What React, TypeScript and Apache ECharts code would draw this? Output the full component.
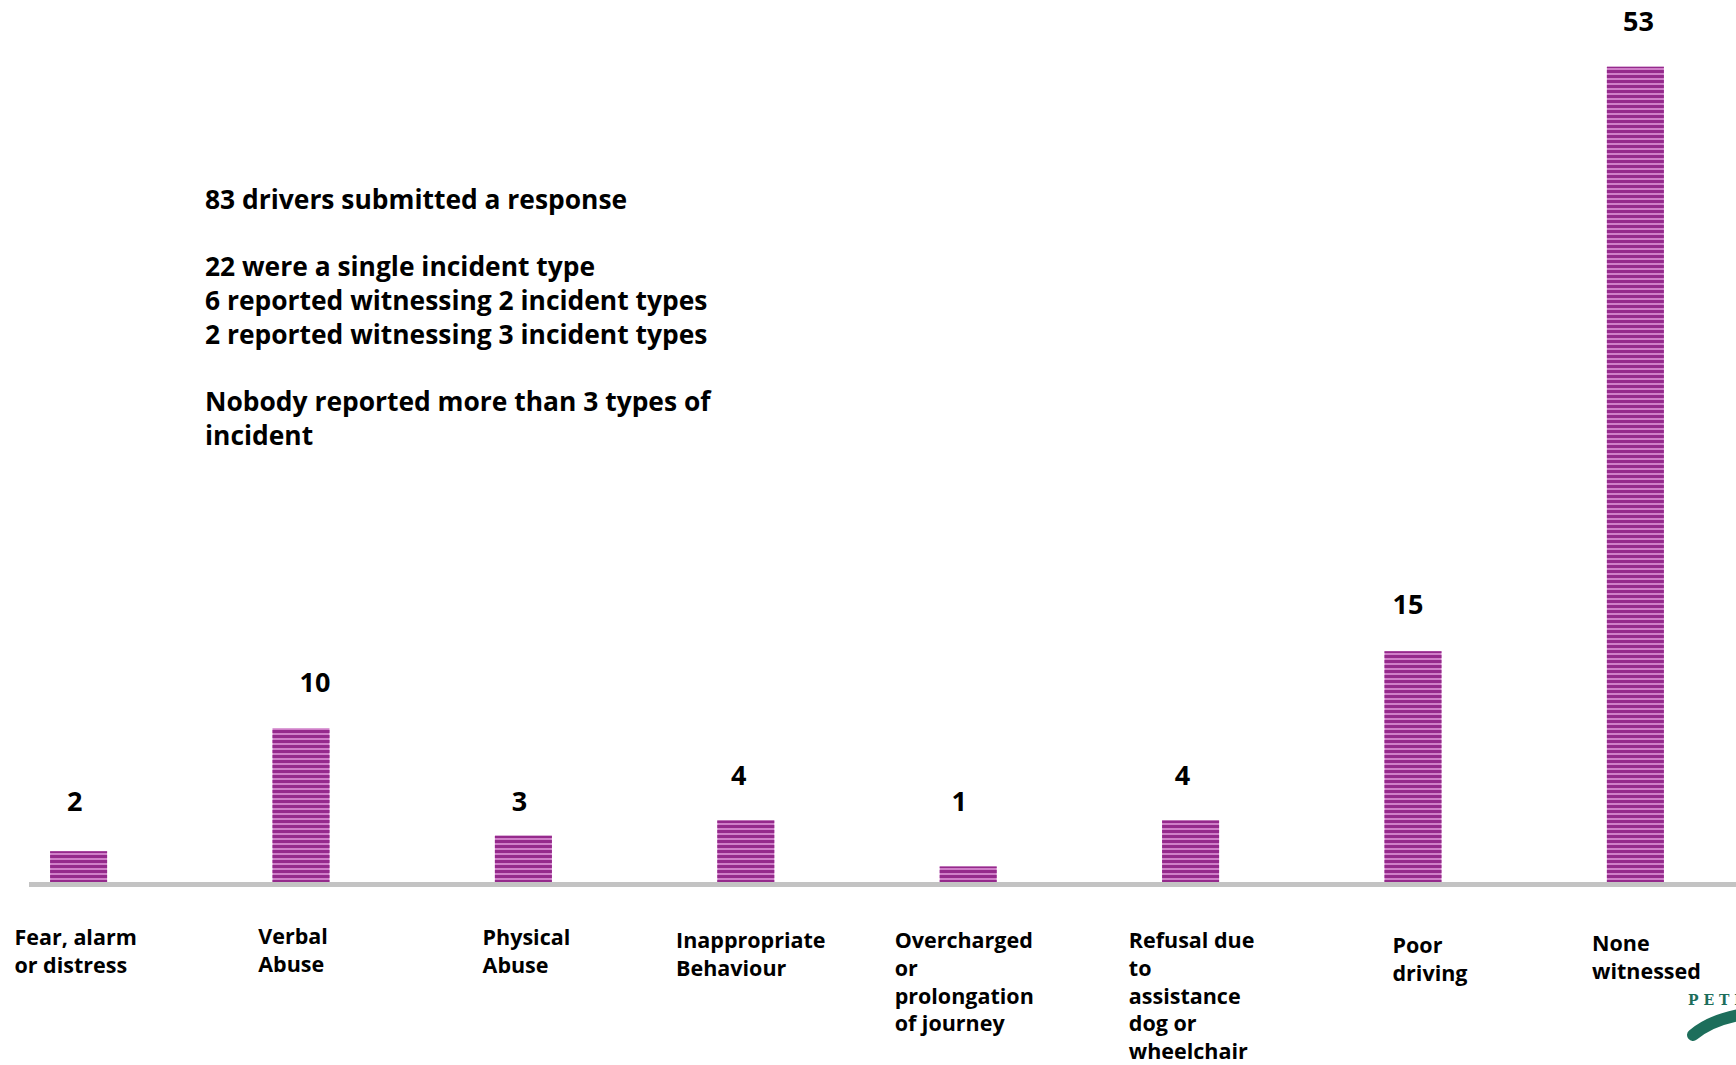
import React, { useEffect, useRef } from "react";
import * as echarts from "echarts";

const categories = [
  "Fear, alarm\nor distress",
  "Verbal\nAbuse",
  "Physical\nAbuse",
  "Inappropriate\nBehaviour",
  "Overcharged\nor\nprolongation\nof journey",
  "Refusal due\nto\nassistance\ndog or\nwheelchair",
  "Poor\ndriving",
  "None\nwitnessed",
];
const counts = [2, 10, 3, 4, 1, 4, 15, 53];
const noteLines = [
  "83 drivers submitted a response",
  "",
  "22 were a single incident type",
  "6 reported witnessing 2 incident types",
  "2 reported witnessing 3 incident types",
  "",
  "Nobody reported more than 3 types of",
  "incident",
];
const logoText = "P E T E R B O R O U G H";

// small per-label nudges (style only) to mimic the hand-placed labels
const labelNudge: [number, number][] = [
  [-4, -4], [14, 0], [-4, 11], [-7, 1], [-9, -20], [-8, 1], [-5, -1], [3, 0],
];
// category label nudges [dx, dy] (style only)
const catNudge: [number, number][] = [
  [-3, 1], [-8, 0], [3, 1], [5, 4], [-4, 4], [1, 4], [17, 9], [11, 7],
];

const FONT = '"Open Sans", "Noto Sans", sans-serif';

export default function App() {
  const ref = useRef<HTMLDivElement>(null);
  useEffect(() => {
    if (!ref.current) return;
    const chart = echarts.init(ref.current, undefined, { renderer: "svg" });
    const baseRich = {
      align: "left",
      fontFamily: FONT,
      fontWeight: "bold",
      fontSize: 21.5,
      lineHeight: 27.7,
      color: "#000",
    };
    const rich: any = {};
    catNudge.forEach(([dx, dy], i) => {
      const padL = dx > 0 ? 2 * dx : 0;
      const padR = dx < 0 ? -2 * dx : 0;
      rich[`r${i}`] = { ...baseRich, padding: [2 * dy, padR, 0, padL] };
    });
    const option: any = {
      animation: false,
      backgroundColor: "#ffffff",
      aria: { enabled: true, decal: { show: true } },
      grid: { left: 0, right: 0, top: 36, bottom: 183, containLabel: false },
      xAxis: {
        type: "value",
        min: -0.3534,
        max: 7.4524,
        axisLine: { show: false },
        axisTick: { show: false },
        splitLine: { show: false },
        axisLabel: {
          customValues: categories.map((_, i) => i),
          margin: 40,
          align: "center",
          formatter: (v: number) => {
            const i = Math.round(v);
            return (categories[i] || "")
              .split("\n")
              .map((l) => `{r${i}|${l}}`)
              .join("\n");
          },
          rich,
        },
      },
      yAxis: {
        type: "value",
        min: 0,
        max: 55,
        show: false,
        splitLine: { show: false },
      },
      series: [
        {
          type: "bar",
          barWidth: 57,
          data: counts.map((v, i) => ({
            value: [i, v],
            label: { offset: labelNudge[i] },
          })),
          itemStyle: {
            color: "#cf7fc8",
            decal: {
              symbol: "rect",
              symbolSize: 1,
              color: "#952a8c",
              dashArrayX: [1, 0],
              dashArrayY: [2.2, 2],
              rotation: 0,
            },
          },
          label: {
            show: true,
            position: "top",
            distance: 33,
            fontFamily: FONT,
            fontWeight: "bold",
            fontSize: 27,
            color: "#000",
            formatter: (p: any) => String(p.value[1]),
          },
        },
      ],
      graphic: [
        {
          type: "line",
          z: -1,
          shape: { x1: 29, y1: 884.5, x2: 1736, y2: 884.5 },
          style: { stroke: "#c3c3c3", lineWidth: 5 },
        },
        {
          type: "text",
          left: 205,
          top: 182,
          style: {
            text: noteLines.join("\n"),
            fontFamily: FONT,
            fontWeight: "bold",
            fontSize: 26.4,
            lineHeight: 33.7,
            fill: "#000",
          },
        },
        {
          type: "text",
          x: 1688,
          y: 993,
          style: {
            text: logoText,
            fontFamily: '"DejaVu Serif", "Liberation Serif", serif',
            fontWeight: "bold",
            fontSize: 14,
            fill: "#1d6e5b",
          },
        },
        {
          type: "bezierCurve",
          shape: { x1: 1693, y1: 1035, cpx1: 1712, cpy1: 1019, x2: 1745, y2: 1014 },
          style: { stroke: "#1d6e5b", lineWidth: 12, lineCap: "round", fill: "none" },
        },
      ],
    };
    chart.setOption(option);
    return () => chart.dispose();
  }, []);
  return (
    <div
      ref={ref}
      style={{ position: "absolute", left: 0, top: 0, width: 1736, height: 1065, overflow: "hidden" }}
    />
  );
}
